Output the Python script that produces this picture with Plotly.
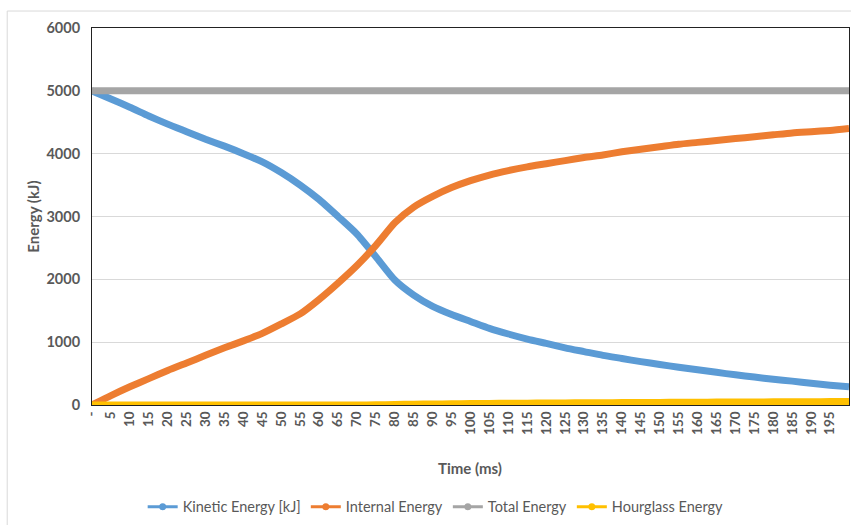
import plotly.graph_objects as go

# Simulation output sampled every 5 ms
time_ms = [0, 5, 10, 15, 20, 25, 30, 35, 40, 45, 50, 55, 60, 65, 70, 75, 80, 85, 90, 95,
           100, 105, 110, 115, 120, 125, 130, 135, 140, 145, 150, 155, 160, 165, 170, 175,
           180, 185, 190, 195, 200]

kinetic_energy = [5000, 4870, 4740, 4600, 4470, 4350, 4230, 4120, 4000, 3870, 3700, 3500,
                  3270, 3000, 2720, 2360, 1990, 1750, 1570, 1440, 1330, 1220, 1130, 1050,
                  980, 910, 850, 790, 740, 690, 645, 600, 560, 520, 480, 445, 410, 380,
                  345, 315, 290]

internal_energy = [0, 150, 290, 420, 550, 670, 790, 910, 1020, 1140, 1290, 1450, 1680, 1940,
                   2220, 2540, 2900, 3150, 3320, 3460, 3570, 3660, 3730, 3790, 3840, 3890,
                   3940, 3980, 4030, 4070, 4110, 4150, 4180, 4210, 4240, 4270, 4300, 4330,
                   4350, 4370, 4400]

total_energy = [5000] * 41

hourglass_energy = [0, 0, 0, 0, 0, 0, 0, 0, 0, 0, 0, 0, 0, 0, 0, 3, 8, 12, 16, 19, 22, 25,
                    27, 29, 31, 33, 35, 37, 38, 40, 41, 43, 44, 46, 47, 49, 50, 51, 52, 54, 55]

tick_values = list(range(0, 200, 5))
tick_labels = ["-"] + [str(v) for v in tick_values[1:]]

series = [
    ("Kinetic Energy [kJ]", kinetic_energy, "#5B9BD5"),
    ("Internal Energy", internal_energy, "#ED7D31"),
    ("Total Energy", total_energy, "#A5A5A5"),
    ("Hourglass Energy", hourglass_energy, "#FFC000"),
]

TEXT = "#595959"
FONT = "Lato, 'Open Sans', sans-serif"

fig = go.Figure()
for name, values, color in series:
    # thick data line
    fig.add_trace(go.Scatter(
        x=time_ms, y=values, name=name, mode="lines", showlegend=False,
        line=dict(color=color, width=7, shape="spline", smoothing=0.6),
        cliponaxis=False,
    ))
for name, values, color in series:
    # legend key: thin line with a dot marker
    fig.add_trace(go.Scatter(
        x=[None], y=[None], name=name, mode="lines+markers",
        line=dict(color=color, width=3),
        marker=dict(color=color, size=7),
    ))

fig.update_layout(
    width=851, height=525,
    margin=dict(l=92, r=2, t=28, b=117),
    paper_bgcolor="white", plot_bgcolor="white",
    font=dict(family=FONT, color=TEXT, size=14),
    showlegend=True,
    legend=dict(orientation="h", x=0.454, xanchor="center", y=-0.27, yanchor="middle",
                font=dict(size=14.5, color=TEXT), itemwidth=30, traceorder="normal"),
    xaxis=dict(
        range=[0, 200], tickmode="array", tickvals=tick_values, ticktext=tick_labels,
        tickangle=-90, tickfont=dict(size=13.5, color=TEXT, family=FONT, weight="bold"),
        showgrid=False, zeroline=False, showline=True, linecolor="#222222", linewidth=1,
        mirror=True, ticks="",
    ),
    yaxis=dict(
        range=[0, 6000], dtick=1000, showgrid=True, gridcolor="#D9D9D9", gridwidth=1,
        tickfont=dict(size=14.5, color=TEXT, family=FONT, weight="bold"),
        zeroline=False, showline=True, linecolor="#222222", linewidth=1, mirror=True,
        ticks="", ticklabelstandoff=8,
    ),
    annotations=[
        dict(text="<b>Time (ms)</b>", xref="paper", yref="paper", x=0.499, y=-0.166,
             xanchor="center", yanchor="middle", showarrow=False,
             font=dict(size=15, color=TEXT)),
        dict(text="<b>Energy (kJ)</b>", xref="paper", yref="paper", x=-0.079, y=0.5,
             xanchor="center", yanchor="middle", textangle=-90, showarrow=False,
             font=dict(size=15, color=TEXT)),
    ],
    shapes=[
        # chart-area border (top and left edges)
        dict(type="line", xref="paper", yref="paper", x0=-0.112, x1=1.01, y0=1.045, y1=1.045,
             line=dict(color="#D9D9D9", width=1)),
        dict(type="line", xref="paper", yref="paper", x0=-0.112, x1=-0.112, y0=1.045, y1=-0.32,
             line=dict(color="#D9D9D9", width=1)),
    ],
)

fig.write_html("out.html")
